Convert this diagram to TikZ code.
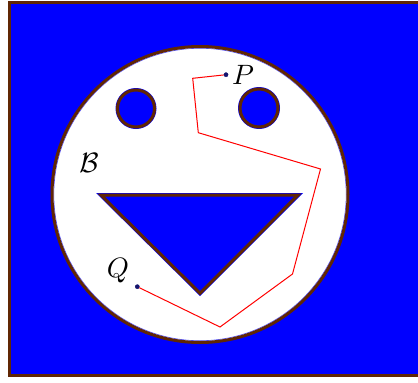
\documentclass[tikz,border=0pt]{standalone}
\begin{document}
\begin{tikzpicture}[x=1pt,y=-1pt,
  lbl/.style={inner sep=0pt,scale=2.8},
  dot/.style={circle,fill=navy,draw=navy,inner sep=0pt,minimum size=4.2pt},
  edge/.style={draw=br,line width=3pt},
  halo/.style={draw=bb!70!white,line width=0.6pt},
  route/.style={draw=red,line width=1pt,line join=miter}]
\definecolor{bb}{RGB}{0,0,255}
\definecolor{br}{RGB}{96,38,4}
\definecolor{navy}{RGB}{20,20,110}
\useasboundingbox (0,0) rectangle (418,383);
% outer blue region
\fill[bb] (9.5,2) rectangle (440,375.5);
\draw[edge] (9.5,2) rectangle (440,375.5);
% white disc
\fill[white] (200,194.5) circle (147pt);
\draw[halo] (200,194.5) circle (146.2pt);
\draw[edge] (200,194.5) circle (148pt);
% eyes
\fill[bb] (136,108.5) circle (20.5pt);
\draw[edge] (136,108.5) circle (18.5pt);
\fill[bb] (259,108) circle (21pt);
\draw[edge] (259,108) circle (19pt);
% mouth
\fill[bb] (96,193) -- (303,193) -- (200,296) -- cycle;
\draw[edge,line join=miter] (100.9,195) -- (298.1,195) -- (200,293.2) -- cycle;
% path from P to Q
\node[dot] (P) at (226,74.7) {};
\node[dot] (Q) at (137.3,286.7) {};
\coordinate (c1) at (192.7,78.3);
\coordinate (c2) at (198.3,132.7);
\coordinate (c3) at (320.5,169);
\coordinate (c4) at (292.5,274);
\coordinate (c5) at (220,327);
\draw[route] (P) -- (c1) -- (c2) -- (c3) -- (c4) -- (c5) -- (Q);
% labels
\node[lbl] (lP) at (243,74.5) {$P$};
\node[lbl] (lQ) at (118,271) {$Q$};
\node[lbl] (lB) at (89,163) {$\mathcal{B}$};
\end{tikzpicture}
\end{document}
